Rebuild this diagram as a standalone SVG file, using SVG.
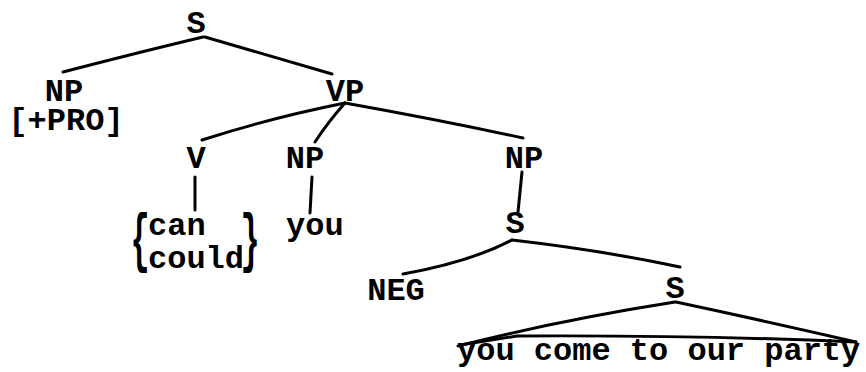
<svg xmlns="http://www.w3.org/2000/svg" width="866" height="372" viewBox="0 0 866 372">
<style>
  text { font-family: "Liberation Mono", "Courier New", monospace; font-size: 32px; font-weight: bold; fill: #000; }
  .m { text-anchor: middle; }
  .e { fill: none; stroke: #000; stroke-width: 3; stroke-linecap: round; stroke-linejoin: round; }
</style>
<rect width="866" height="372" fill="#fff"/>
<g id="connectors">
  <path class="e" d="M203 37 Q140 52 63 72"/>
  <path class="e" d="M205 37 Q270 56 332 74"/>
  <path class="e" d="M345 103 Q270 118 202 140"/>
  <path class="e" d="M345 103 Q328 122 315 142"/>
  <path class="e" d="M345 103 Q440 120 523 138"/>
  <path class="e" d="M195 177 L195 210"/>
  <path class="e" d="M312 177 L310 213"/>
  <path class="e" d="M522 172 L518 212"/>
  <path class="e" d="M512 240 Q470 262 403 274"/>
  <path class="e" d="M512 240 Q600 250 680 267"/>
  <path class="e" d="M675 302 Q560 320 458 346"/>
  <path class="e" d="M676 302 Q770 322 856 342"/>
  <path class="e" d="M460 345 L517 336 Q700 335 856 342"/>
</g>
<g id="n-s-root"><text class="m" x="196" y="33">S</text></g>
<g id="n-np-subj"><text class="m" x="64" y="101">NP</text><text class="m" x="66" y="130">[+PRO]</text></g>
<g id="n-vp"><text class="m" x="345" y="101">VP</text></g>
<g id="n-v"><text class="m" x="196" y="168">V</text></g>
<g id="n-np-obj"><text class="m" x="305" y="168">NP</text></g>
<g id="n-np-comp"><text class="m" x="524" y="168">NP</text></g>
<g id="n-modal">
  <text transform="scale(1,2)" class="m" x="140" y="130">{</text>
  <text x="148" y="235">can</text>
  <text x="148" y="268">could</text>
  <text transform="scale(1,2)" class="m" x="250" y="130">}</text>
</g>
<g id="n-you"><text x="286" y="235">you</text></g>
<g id="n-s-comp"><text class="m" x="515" y="233">S</text></g>
<g id="n-neg"><text class="m" x="396" y="300">NEG</text></g>
<g id="n-s-inner"><text class="m" x="675" y="298">S</text></g>
<g id="n-terminal"><text x="457" y="360">you come to our party</text></g>
</svg>
